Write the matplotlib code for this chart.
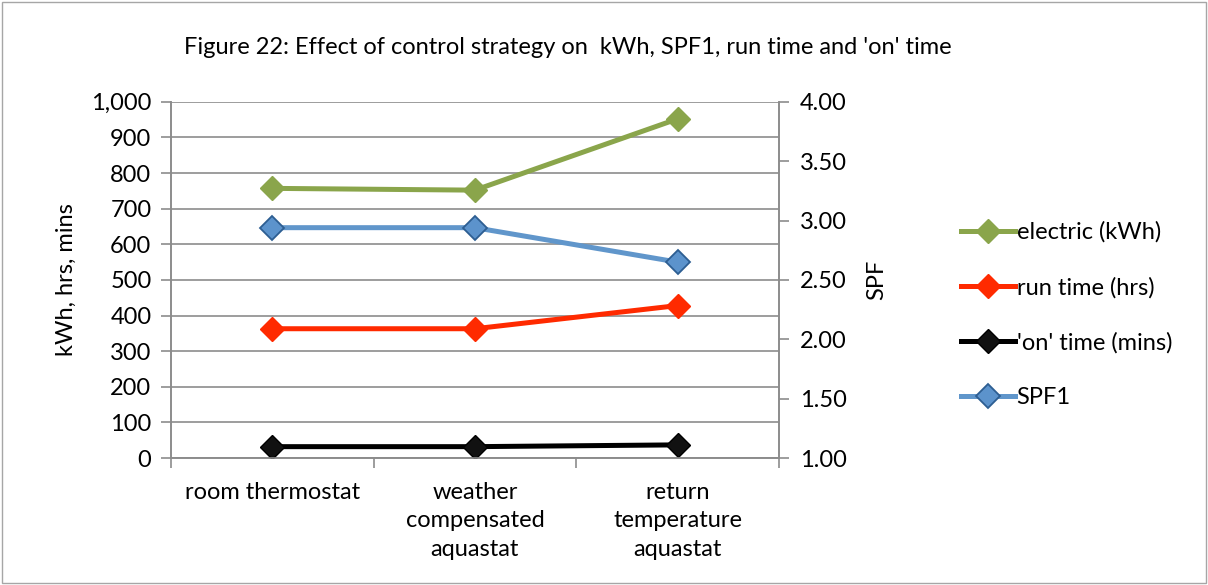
import numpy as np
import matplotlib.pyplot as plt
from matplotlib.patches import Rectangle

# Data
categories = ["room thermostat", "weather\ncompensated\naquastat", "return\ntemperature\naquastat"]
electric_kwh = [757, 752, 952]
run_time_hrs = [363, 363, 428]
on_time_mins = [32, 32, 37]
spf1 = [2.94, 2.94, 2.65]

plt.rcParams["font.family"] = ["Lato", "DejaVu Sans"]
fs = 17

fig = plt.figure(figsize=(12.08, 5.85), dpi=100)
fig.patches.append(Rectangle((0.002, 0.003), 0.996, 0.994, transform=fig.transFigure,
                             fill=False, edgecolor="#a6a6a6", lw=1))

ax = fig.add_axes([0.1415, 0.217, 0.5033, 0.609])
ax2 = ax.twinx()

x = np.arange(len(categories))
lw = 3.6
ms = 12
l1, = ax.plot(x, electric_kwh, color="#8aa54b", lw=lw, marker="D", ms=ms, mfc="#8aa54b", mec="#8aa54b",
              label="electric (kWh)", zorder=3)
l2, = ax.plot(x, run_time_hrs, color="#ff2a00", lw=lw, marker="D", ms=ms, mfc="#ff2a00", mec="#ff2a00",
              label="run time (hrs)", zorder=3)
l3, = ax.plot(x, on_time_mins, color="#000000", lw=lw, marker="D", ms=ms, mfc="#111111", mec="#000000",
              label="'on' time (mins)", zorder=3)
l4, = ax2.plot(x, spf1, color="#6096cb", lw=lw, marker="D", ms=ms, mfc="#5c93cc", mec="#2d5e92", mew=1.3,
               label="SPF1", zorder=3)

ax.set_xlim(-0.5, 2.5)
ax.set_ylim(0, 1000)
ax.set_yticks(np.arange(0, 1001, 100))
ax.set_yticklabels([f"{v:,}" for v in range(0, 1001, 100)])
ax2.set_ylim(1.0, 4.0)
ax2.set_yticks(np.arange(1.0, 4.01, 0.5))
ax2.set_yticklabels([f"{v:.2f}" for v in np.arange(1.0, 4.01, 0.5)])

ax.set_xticks(x)
ax.set_xticklabels(categories, fontsize=fs, linespacing=1.45)
ax.set_xticks([-0.5, 0.5, 1.5, 2.5], minor=True)
ax.tick_params(axis="x", which="major", length=0, pad=17)
ax.tick_params(axis="x", which="minor", length=7, color="#8c8c8c", width=1.2)
ax.tick_params(axis="y", length=7, color="#8c8c8c", width=1.2, labelsize=fs, pad=7)
ax2.tick_params(axis="y", length=7, color="#8c8c8c", width=1.2, labelsize=fs, pad=8)

ax.grid(axis="y", color="#8c8c8c", lw=1.2)
ax.set_axisbelow(True)
for a in (ax, ax2):
    a.spines["top"].set_visible(False)
    for s in ("left", "right", "bottom"):
        a.spines[s].set_color("#8c8c8c")
        a.spines[s].set_linewidth(1.2)

ax.set_ylabel("kWh, hrs, mins", fontsize=fs)
ax.yaxis.set_label_coords(-0.155, 0.5)
ax2.set_ylabel("SPF", fontsize=fs)
ax2.yaxis.set_label_coords(1.143, 0.5)

fig.text(0.47, 0.918, "Figure 22: Effect of control strategy on  kWh, SPF1, run time and 'on' time",
         ha="center", va="center", fontsize=fs)

fig.legend(handles=[l1, l2, l3, l4], loc="center left", bbox_to_anchor=(0.778, 0.462),
           frameon=False, fontsize=fs, handlelength=2.3, handletextpad=0.05, labelspacing=1.43)

fig.savefig("out.png", dpi=100)
